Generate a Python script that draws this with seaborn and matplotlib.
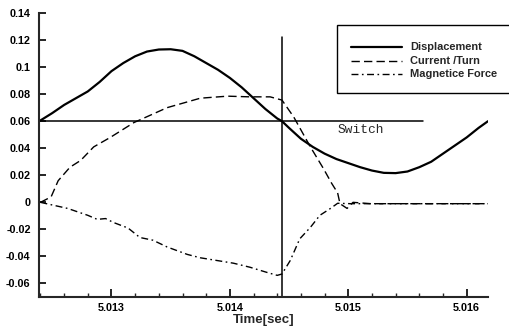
import matplotlib
matplotlib.use("Agg")
import matplotlib.pyplot as plt
import seaborn as sns
import pandas as pd
from matplotlib.ticker import MultipleLocator, FuncFormatter
from matplotlib.lines import Line2D
from matplotlib.patches import Rectangle

# ---------------- data ----------------
disp_t = [5.01239, 5.0125, 5.0126, 5.0127, 5.0128, 5.0129, 5.0130, 5.0131, 5.0132,
          5.0133, 5.0134, 5.0135, 5.0136, 5.0137, 5.0138, 5.0139, 5.0140, 5.0141,
          5.0142, 5.0143, 5.0144, 5.01444, 5.0145, 5.0146, 5.0147, 5.0148, 5.0149,
          5.0150, 5.0151, 5.0152, 5.0153, 5.0154, 5.0155, 5.0156, 5.0157, 5.0158,
          5.0159, 5.0160, 5.0161, 5.01618]
disp_v = [0.060, 0.066, 0.072, 0.077, 0.082, 0.089, 0.097, 0.103, 0.108,
          0.1115, 0.113, 0.1132, 0.112, 0.108, 0.103, 0.098, 0.092, 0.085,
          0.077, 0.069, 0.062, 0.060, 0.055, 0.047, 0.041, 0.036, 0.032,
          0.029, 0.026, 0.0235, 0.0218, 0.0216, 0.0228, 0.026, 0.030, 0.036,
          0.042, 0.048, 0.055, 0.060]

curr_t = [5.01240, 5.01249, 5.01255, 5.01265, 5.01274, 5.01285, 5.01299, 5.01319,
          5.01347, 5.01375, 5.01398, 5.01417, 5.01434, 5.01444, 5.01454, 5.01468,
          5.01479, 5.01486, 5.01491, 5.01493, 5.01499, 5.01504, 5.01519, 5.01618]
curr_v = [0.000, 0.004, 0.016, 0.026, 0.031, 0.041, 0.048, 0.059,
          0.070, 0.077, 0.0785, 0.078, 0.078, 0.0756, 0.063, 0.041,
          0.025, 0.014, 0.007, -0.001, -0.0045, 0.000, -0.001, -0.001]

force_t = [5.01240, 5.01263, 5.01280, 5.01288, 5.01295, 5.01302, 5.01314, 5.01324,
           5.01335, 5.01347, 5.01364, 5.01375, 5.01389, 5.01403, 5.01417, 5.01432,
           5.01440, 5.01444, 5.01451, 5.01459, 5.01468, 5.01476, 5.01485, 5.01491,
           5.01502, 5.01618]
force_v = [0.000, -0.0045, -0.0096, -0.0126, -0.012, -0.015, -0.019, -0.026,
           -0.028, -0.033, -0.0385, -0.041, -0.043, -0.045, -0.048, -0.052,
           -0.054, -0.053, -0.043, -0.027, -0.0185, -0.0096, -0.0045, -0.0007,
           -0.001, -0.001]

switch_t = 5.01444
switch_level = 0.06
series_names = ["Displacement", "Current /Turn", "Magnetice Force"]
x_ticks = [5.013, 5.014, 5.015, 5.016]
y_ticks = [-0.06, -0.04, -0.02, 0, 0.02, 0.04, 0.06, 0.08, 0.1, 0.12, 0.14]

# ---------------- style ----------------
sns.set_style("ticks")
plt.rcParams['font.family'] = ['Liberation Sans', 'DejaVu Sans']

fig = plt.figure(figsize=(5.10, 3.29), dpi=100)
W, H = 510, 329
ax = fig.add_axes([39 / W, 1 - 297 / H, (488 - 39) / W, (297 - 13) / H])

df_d = pd.DataFrame({"t": disp_t, "v": disp_v})
df_c = pd.DataFrame({"t": curr_t, "v": curr_v})
df_f = pd.DataFrame({"t": force_t, "v": force_v})

sns.lineplot(data=df_d, x="t", y="v", ax=ax, color="black", lw=1.6, sort=False)
sns.lineplot(data=df_c, x="t", y="v", ax=ax, color="black", lw=1.0, sort=False,
             linestyle=(0, (6, 3)))
sns.lineplot(data=df_f, x="t", y="v", ax=ax, color="black", lw=1.0, sort=False,
             linestyle=(0, (5, 2.5, 1.2, 2.5)))

# switch markers
ax.plot([5.01239, 5.01563], [switch_level, switch_level], color="black", lw=1.1)
ax.plot([switch_t, switch_t], [-0.07, 0.1222], color="black", lw=1.1)
ax.text(5.014913, 0.0533, "Switch", family="Liberation Mono", fontsize=9.3,
        va="center", ha="left")

ax.set_xlim(5.012388, 5.01618)
ax.set_ylim(-0.07, 0.14)
ax.set_xticks(x_ticks)
ax.xaxis.set_minor_locator(MultipleLocator(0.0002))
ax.set_yticks(y_ticks)
ax.xaxis.set_major_formatter(FuncFormatter(lambda v, p: f"{v:.3f}"))
ax.yaxis.set_major_formatter(FuncFormatter(lambda v, p: "0" if abs(v) < 1e-12 else f"{v:g}"))

ax.tick_params(axis="both", direction="in", width=1.2, labelsize=7.8, colors="black")
ax.tick_params(axis="x", which="major", length=6, pad=4)
ax.tick_params(axis="x", which="minor", length=3, width=1.0, direction="in")
ax.tick_params(axis="y", which="major", length=5, pad=6)
for lab in ax.get_xticklabels() + ax.get_yticklabels():
    lab.set_fontweight("bold")

ax.spines["top"].set_visible(False)
ax.spines["right"].set_visible(False)
ax.spines["left"].set_linewidth(1.5)
ax.spines["bottom"].set_linewidth(1.5)

ax.set_xlabel("Time[sec]", fontsize=9.5, fontweight="bold", labelpad=1)
ax.set_ylabel("")

# legend box (extends past the right edge like the reference)
rect = Rectangle((337 / W, 1 - 93 / H), 200 / W, 68 / H, transform=fig.transFigure,
                 fill=True, facecolor="white", edgecolor="black", lw=1.0, zorder=5)
fig.patches.append(rect)
styles = ["-", (0, (6, 3)), (0, (5, 2.5, 1.2, 2.5))]
widths = [1.6, 1.0, 1.0]
rows = [47, 61, 74]
for name, ls, lw, r in zip(series_names, styles, widths, rows):
    fig.add_artist(Line2D([351 / W, 402 / W], [1 - r / H, 1 - r / H], color="black",
                          lw=lw, linestyle=ls, transform=fig.transFigure, zorder=6))
    fig.text(410 / W, 1 - r / H, name, fontsize=7.9, fontweight="bold",
             va="center", ha="left", zorder=6)

fig.savefig("out.png", dpi=100)
